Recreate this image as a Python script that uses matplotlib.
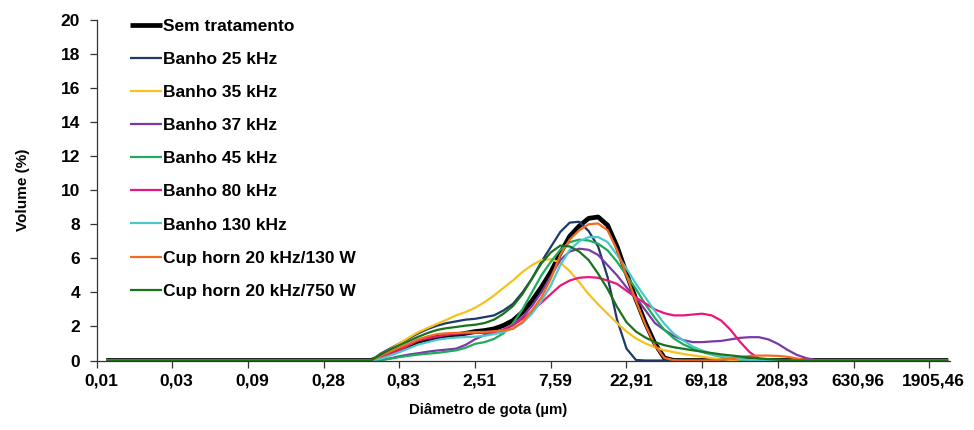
"""
Droplet size distribution (volume %) for the different sonication treatments.
"""

import numpy as np
import matplotlib
matplotlib.use("Agg")
import matplotlib.pyplot as plt

plt.rcParams["font.family"] = ["Liberation Sans", "DejaVu Sans"]
plt.rcParams["font.weight"] = "bold"

# size classes (category axis), a label every 8th class
N_CLASSES = 90
TICK_STEP = 8
tick_labels = ["0,01", "0,03", "0,09", "0,28", "0,83", "2,51", "7,59",
               "22,91", "69,18", "208,93", "630,96", "1905,46"]

# first class with volume > 0; every class before it is 0 %
START = 29

sem_tratamento = [0, 0.22, 0.42, 0.63, 0.85, 1.08, 1.25, 1.37, 1.43, 1.5,
                  1.6, 1.7, 1.76, 1.86, 2.06, 2.35, 2.84, 3.5, 4.3, 5.2,
                  6.3, 7.3, 7.9, 8.35, 8.43, 7.95, 6.7, 5.1, 3.6, 2.2,
                  1.0, 0.15, 0]
banho_25 = [0, 0.4, 0.7, 1.0, 1.3, 1.6, 1.85, 2.05, 2.2, 2.3,
            2.4, 2.45, 2.55, 2.65, 2.94, 3.33, 4.0, 4.8, 5.8, 6.67,
            7.55, 8.1, 8.15, 7.6, 6.7, 4.9, 2.4, 0.7, 0.03, 0]
banho_35 = [0, 0.35, 0.65, 1.0, 1.35, 1.67, 1.92, 2.16, 2.4, 2.65,
            2.85, 3.1, 3.43, 3.82, 4.27, 4.7, 5.2, 5.6, 5.9, 5.95,
            5.75, 5.25, 4.6, 3.9, 3.3, 2.75, 2.2, 1.7, 1.3, 1.0,
            0.78, 0.6, 0.49, 0.39, 0.3, 0.22, 0.14, 0.08, 0.03, 0]
banho_37 = [0, 0.03, 0.12, 0.25, 0.35, 0.43, 0.52, 0.59, 0.64, 0.7,
            0.92, 1.25, 1.5, 1.65, 1.82, 2.1, 2.55, 3.2, 4.0, 4.95,
            5.9, 6.4, 6.57, 6.5, 6.2, 5.6, 5.0, 4.3, 3.7, 2.95,
            2.2, 1.8, 1.45, 1.2, 1.08, 1.08, 1.12, 1.15, 1.24, 1.33,
            1.37, 1.37, 1.24, 0.98, 0.63, 0.33, 0.14, 0.03, 0]
banho_45 = [0, 0.03, 0.1, 0.2, 0.28, 0.35, 0.4, 0.45, 0.52, 0.6,
            0.75, 0.98, 1.08, 1.27, 1.6, 2.2, 3.0, 4.0, 5.0, 5.8,
            6.5, 6.95, 7.1, 7.05, 6.86, 6.47, 5.8, 5.0, 4.2, 3.3,
            2.5, 1.8, 1.3, 0.95, 0.7, 0.5, 0.35, 0.22, 0.12, 0.06,
            0.02, 0]
banho_80 = [0, 0.2, 0.39, 0.6, 0.9, 1.18, 1.3, 1.41, 1.5, 1.57,
            1.6, 1.62, 1.62, 1.67, 1.8, 2.06, 2.45, 2.9, 3.4, 3.9,
            4.4, 4.7, 4.86, 4.9, 4.86, 4.7, 4.5, 4.1, 3.7, 3.35,
            3.0, 2.78, 2.65, 2.65, 2.7, 2.75, 2.65, 2.35, 1.8, 1.1,
            0.5, 0.1, 0]
banho_130 = [0, 0.1, 0.29, 0.49, 0.72, 0.94, 1.08, 1.22, 1.3, 1.35,
             1.38, 1.4, 1.45, 1.55, 1.67, 1.9, 2.2, 2.75, 3.5, 4.4,
             5.6, 6.5, 7.0, 7.25, 7.25, 6.96, 6.2, 5.4, 4.5, 3.7,
             2.9, 2.16, 1.57, 1.18, 0.82, 0.59, 0.39, 0.25, 0.16, 0.08,
             0.03, 0]
cup_130w = [0, 0.28, 0.52, 0.75, 1.0, 1.25, 1.42, 1.55, 1.6, 1.62,
            1.65, 1.67, 1.68, 1.72, 1.76, 1.86, 2.25, 2.94, 3.7, 4.8,
            6.2, 7.1, 7.65, 8.0, 8.05, 7.65, 6.5, 5.0, 3.5, 2.1,
            0.9, 0.15, 0.02, 0, 0, 0, 0, 0.05, 0.12, 0.2,
            0.26, 0.29, 0.29, 0.27, 0.22, 0.12, 0.04, 0]
cup_750w = [0, 0.35, 0.65, 0.9, 1.15, 1.4, 1.62, 1.8, 1.9, 1.97,
            2.05, 2.1, 2.2, 2.4, 2.75, 3.2, 3.9, 4.8, 5.7, 6.35,
            6.75, 6.7, 6.4, 5.9, 5.1, 4.2, 3.15, 2.25, 1.7, 1.35,
            1.08, 0.9, 0.78, 0.69, 0.6, 0.52, 0.44, 0.36, 0.3, 0.24,
            0.18, 0.13, 0.08, 0.05, 0.02, 0]

series = [
    ("Sem tratamento", sem_tratamento, "#000000", 3.4),
    ("Banho 25 kHz", banho_25, "#1F3A6A", 1.6),
    ("Banho 35 kHz", banho_35, "#F7C21E", 1.6),
    ("Banho 37 kHz", banho_37, "#7A3AA6", 1.6),
    ("Banho 45 kHz", banho_45, "#1FAA5C", 1.6),
    ("Banho 80 kHz", banho_80, "#E6187A", 1.6),
    ("Banho 130 kHz", banho_130, "#4CC8CC", 1.6),
    ("Cup horn 20 kHz/130 W", cup_130w, "#F26B1F", 1.6),
    ("Cup horn 20 kHz/750 W", cup_750w, "#1A721A", 1.6),
]


def full_curve(segment):
    """Volume for every size class (zeros outside the measured segment)."""
    y = np.zeros(N_CLASSES)
    y[START - 1:START - 1 + len(segment)] = segment
    return y


def main():
    fig = plt.figure(figsize=(9.74, 4.30), dpi=100)
    ax = fig.add_axes([0.0993, 0.1616, 0.8761, 0.7919])

    x = np.arange(1, N_CLASSES + 1)
    for label, values, color, lw in series:
        ax.plot(x, full_curve(values), color=color, lw=lw, label=label,
                solid_joinstyle="round", solid_capstyle="butt")

    ax.set_xlim(0, N_CLASSES + 0.2)
    ax.set_ylim(0, 20)

    # tick marks on class boundaries, labels centred on the class
    tick_pos = np.arange(len(tick_labels)) * TICK_STEP
    ax.set_xticks(tick_pos)
    ax.set_xticklabels([])
    ax.set_xticks(tick_pos + 0.45, minor=True)
    ax.set_xticklabels(tick_labels, minor=True)
    ax.tick_params(axis="x", which="major", direction="out", length=5,
                   width=0.9, color="#333333")
    ax.tick_params(axis="x", which="minor", length=0, pad=9.5,
                   labelsize=12.5)
    ax.set_yticks(np.arange(0, 21, 2))
    ax.tick_params(axis="y", direction="out", length=5, width=0.9,
                   color="#333333", pad=7, labelsize=12.5)
    for lab in ax.get_xticklabels(minor=True) + ax.get_yticklabels():
        lab.set_fontweight("bold")

    for side in ("top", "right"):
        ax.spines[side].set_visible(False)
    for side in ("left", "bottom"):
        ax.spines[side].set_linewidth(0.9)
        ax.spines[side].set_color("#333333")

    ax.text(-0.0864, 0.5, "Volume (%)", rotation=90, ha="center",
            va="center", transform=ax.transAxes, fontsize=11,
            fontweight="bold")
    ax.text(0.4586, -0.145, "Diâmetro de gota (µm)", ha="center",
            va="center", transform=ax.transAxes, fontsize=10.8,
            fontweight="bold")

    ax.legend(loc="upper left", bbox_to_anchor=(0.039, 1.004),
              frameon=False, handlelength=1.84, handletextpad=0.05,
              labelspacing=1.035, borderaxespad=0, borderpad=0,
              prop={"size": 12.5, "weight": "bold"})

    fig.savefig("out.png", dpi=100)


if __name__ == "__main__":
    main()
